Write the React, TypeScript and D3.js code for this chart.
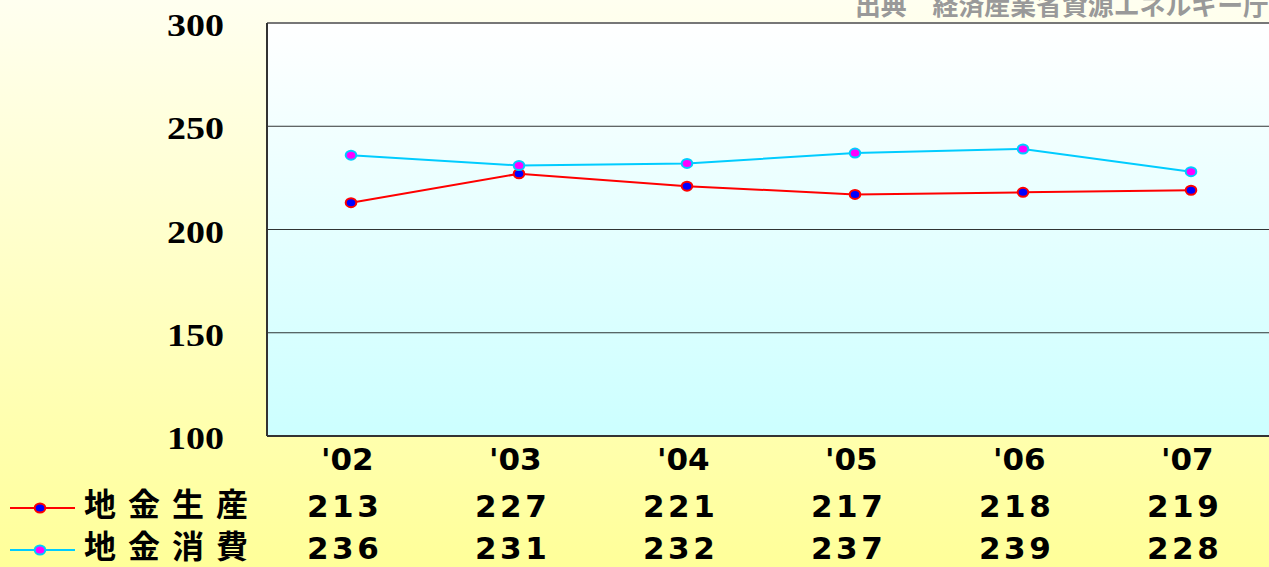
import React from "react";
import * as d3 from "d3";

const years = ["'02", "'03", "'04", "'05", "'06", "'07"];
const production = [213, 227, 221, 217, 218, 219];
const consumption = [236, 231, 232, 237, 239, 228];
const yTicks = [100, 150, 200, 250, 300];
const seriesNames = ["地金生産", "地金消費"];
const sourceText = "出典　経済産業省資源エネルギー庁";

const W = 1269;
const H = 567;
const plot = { left: 267, top: 23, right: 1275, bottom: 436 };

export default function App() {
  const x = d3.scaleBand<string>().domain(years).range([plot.left, plot.right]);
  const y = d3.scaleLinear().domain([100, 300]).range([plot.bottom, plot.top]);
  const cx = (i: number) => (x(years[i]) as number) + x.bandwidth() / 2;
  const line = d3
    .line<number>()
    .x((_, i) => cx(i))
    .y((d) => y(d));

  const series = [
    { name: seriesNames[0], values: production, stroke: "#FF0000", fill: "#0000FF" },
    { name: seriesNames[1], values: consumption, stroke: "#00CCFF", fill: "#FF00FF" },
  ];
  const rowY = [508, 550];
  const rowBase = [517, 559];
  const sans = "'DejaVu Sans', Verdana, sans-serif";
  const cjk = "'Noto Sans CJK JP', sans-serif";

  return (
    <div style={{ position: "fixed", left: 0, top: 0, width: W, height: H }}>
      <svg width={W} height={H} style={{ display: "block" }}>
        <defs>
          <linearGradient id="bg" x1="0" y1="0" x2="0" y2="1">
            <stop offset="0" stopColor="#FFFFF0" />
            <stop offset="1" stopColor="#FFFF99" />
          </linearGradient>
          <linearGradient id="pg" x1="0" y1="0" x2="0" y2="1">
            <stop offset="0" stopColor="#FFFFFF" />
            <stop offset="1" stopColor="#CCFFFF" />
          </linearGradient>
        </defs>
        <rect x={0} y={0} width={W} height={H} fill="url(#bg)" />
        <rect
          x={plot.left}
          y={plot.top}
          width={plot.right - plot.left}
          height={plot.bottom - plot.top}
          fill="url(#pg)"
        />
        {yTicks.map((t) => (
          <g key={t}>
            <line x1={plot.left} x2={plot.right} y1={y(t)} y2={y(t)} stroke="#000" strokeWidth={0.8} />
            <text
              x={167}
              y={y(t) + 13}
              textLength={57}
              lengthAdjust="spacingAndGlyphs"
              fontFamily="'Liberation Serif', 'Times New Roman', serif"
              fontWeight="bold"
              fontSize={32}
              fill="#000"
            >
              {t}
            </text>
          </g>
        ))}
        <line x1={plot.left} x2={plot.right} y1={plot.top} y2={plot.top} stroke="#777" strokeWidth={2} />
        <line x1={plot.left} x2={plot.left} y1={plot.top} y2={plot.bottom} stroke="#333" strokeWidth={2} />
        <line x1={plot.left} x2={plot.right} y1={plot.bottom} y2={plot.bottom} stroke="#333" strokeWidth={2} />
        <text
          x={855}
          y={15}
          textLength={414}
          lengthAdjust="spacingAndGlyphs"
          fontFamily={cjk}
          fontWeight="bold"
          fontSize={26}
          fill="#999"
        >
          {sourceText}
        </text>
        {series.map((s) => (
          <g key={s.name}>
            <path d={line(s.values) || ""} fill="none" stroke={s.stroke} strokeWidth={2} />
            {s.values.map((v, i) => (
              <ellipse key={i} cx={cx(i)} cy={y(v)} rx={5.3} ry={4.5} fill={s.fill} stroke={s.stroke} strokeWidth={2} />
            ))}
          </g>
        ))}
        {years.map((yr, i) => (
          <text
            key={yr}
            x={cx(i) - 30}
            y={470}
            fontFamily={sans}
            fontWeight="bold"
            fontSize={31}
            fill="#000"
          >
            {yr}
          </text>
        ))}
        {series.map((s, si) => (
          <g key={"row" + si}>
            <line x1={10} x2={75} y1={rowY[si]} y2={rowY[si]} stroke={s.stroke} strokeWidth={2} />
            <ellipse cx={40} cy={rowY[si]} rx={5.3} ry={4.5} fill={s.fill} stroke={s.stroke} strokeWidth={2} />
            <text
              x={84}
              y={rowBase[si] - 1}
              letterSpacing={12}
              fontFamily={cjk}
              fontWeight="bold"
              fontSize={32}
              fill="#000"
            >
              {s.name}
            </text>
            {s.values.map((v, i) => (
              <text
                key={i}
                x={cx(i) - 44}
                y={rowBase[si]}
                letterSpacing={3.5}
                fontFamily={sans}
                fontWeight="bold"
                fontSize={31}
                fill="#000"
              >
                {v}
              </text>
            ))}
          </g>
        ))}
      </svg>
    </div>
  );
}
